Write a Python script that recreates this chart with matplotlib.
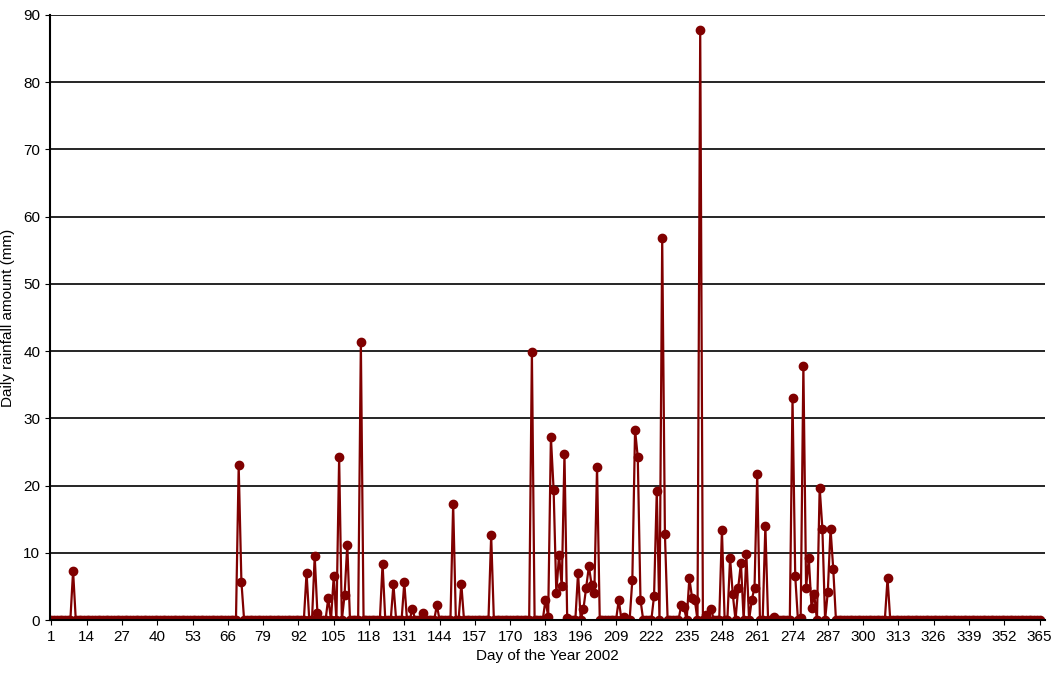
import matplotlib
matplotlib.use("Agg")
import matplotlib.pyplot as plt
import numpy as np

rain_days = [9, 70, 71, 95, 98, 99, 103, 105, 107, 109, 110, 115, 123, 127, 131, 134, 138, 143,
             149, 152, 163, 178, 183, 184, 185, 186, 187, 188, 189, 190, 191, 195, 197, 198, 199,
             200, 201, 202, 210, 212, 215, 216, 217, 218, 223, 224, 226, 227, 233, 234, 236, 237,
             238, 240, 242, 244, 248, 251, 252, 254, 255, 257, 259, 260, 261, 264, 267, 274, 275,
             277, 278, 279, 280, 281, 282, 284, 285, 287, 288, 289, 309]
rain_mm = [7.3, 23.0, 5.7, 7.0, 9.5, 1.0, 3.3, 6.5, 24.2, 3.7, 11.2, 41.3, 8.4, 5.3, 5.6, 1.7, 1.0, 2.2,
           17.3, 5.4, 12.6, 39.8, 3.0, 0.5, 27.2, 19.4, 4.0, 9.7, 5.0, 24.7, 0.3, 7.0, 1.7, 4.8, 8.0,
           5.2, 4.0, 22.8, 3.0, 0.5, 6.0, 28.3, 24.2, 3.0, 3.6, 19.2, 56.8, 12.8, 2.2, 1.9, 6.2, 3.3,
           3.0, 87.8, 0.8, 1.7, 13.4, 9.2, 3.8, 4.8, 8.5, 9.8, 3.0, 4.8, 21.7, 14.0, 0.5, 33.0, 6.5,
           0.3, 37.8, 4.8, 9.2, 1.8, 3.8, 19.7, 13.6, 4.2, 13.6, 7.6, 6.2]

days = np.arange(1, 366)
values = np.zeros(365)
for d, v in zip(rain_days, rain_mm):
    values[d - 1] = v
tick_days = list(range(1, 366, 13))

fig = plt.figure(figsize=(10.55, 6.92), dpi=100)
ax = fig.add_axes([50/1055, 1 - 620/692, 995/1055, 605/692])
ax.plot(days, values, color="#800000", lw=1.6, marker="o", ms=6)
ax.set_xlim(0.5, 367)
ax.set_ylim(0, 90)
ax.set_yticks(range(0, 91, 10))
ax.set_xticks(tick_days)
ax.yaxis.grid(True, color="black", lw=1.2)
ax.set_axisbelow(True)
for s in ["top", "right"]:
    ax.spines[s].set_visible(False)
ax.spines["left"].set_linewidth(1.5)
ax.spines["bottom"].set_linewidth(1.5)
ax.tick_params(labelsize=11, direction="out")
ax.set_xlabel("Day of the Year 2002", fontsize=11, family="Liberation Sans")
ax.set_ylabel("Daily rainfall amount (mm)", fontsize=11, family="Liberation Sans")
ax.yaxis.set_label_coords(-35/995, 0.5)
for lab in ax.get_xticklabels() + ax.get_yticklabels():
    lab.set_family("Liberation Sans")
fig.savefig("out.png", dpi=100)
